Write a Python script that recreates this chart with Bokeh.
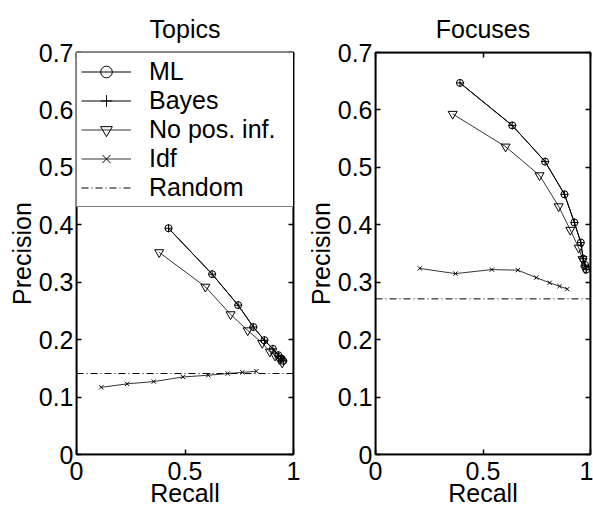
from bokeh.plotting import figure
from bokeh.models import (LinearAxis, FixedTicker, CustomJSTickFormatter, Legend,
                          LegendItem, Range1d, BoxAnnotation)
from bokeh.layouts import row
from bokeh.embed import file_html
from bokeh.resources import INLINE

# ---------------- data ----------------
x_ticks = [0, 0.5, 1]
y_ticks = [0, 0.1, 0.2, 0.3, 0.4, 0.5, 0.6, 0.7]
x_lim = [0, 1]
y_lim = [0, 0.7]

# Topics
topics_ml_x = [0.424, 0.625, 0.745, 0.815, 0.866, 0.905, 0.930, 0.945, 0.953]
topics_ml_y = [0.394, 0.314, 0.260, 0.222, 0.199, 0.184, 0.173, 0.167, 0.163]
topics_bayes_x = [0.424, 0.625, 0.745, 0.815, 0.866, 0.905, 0.930, 0.945, 0.953]
topics_bayes_y = [0.394, 0.314, 0.260, 0.222, 0.199, 0.184, 0.173, 0.167, 0.163]
topics_nopos_x = [0.381, 0.594, 0.710, 0.789, 0.856, 0.891, 0.915, 0.935, 0.948]
topics_nopos_y = [0.352, 0.292, 0.244, 0.216, 0.194, 0.179, 0.172, 0.166, 0.160]
topics_idf_x = [0.114, 0.233, 0.356, 0.490, 0.607, 0.697, 0.764, 0.829]
topics_idf_y = [0.117, 0.123, 0.127, 0.135, 0.138, 0.141, 0.143, 0.145]
topics_random = 0.141

# Focuses
focus_ml_x = [0.393, 0.636, 0.789, 0.879, 0.925, 0.955, 0.966, 0.975, 0.980]
focus_ml_y = [0.647, 0.573, 0.510, 0.453, 0.404, 0.369, 0.341, 0.330, 0.322]
focus_bayes_x = [0.393, 0.636, 0.789, 0.879, 0.925, 0.955, 0.966, 0.975, 0.980]
focus_bayes_y = [0.647, 0.573, 0.510, 0.453, 0.404, 0.369, 0.341, 0.330, 0.322]
focus_nopos_x = [0.359, 0.605, 0.763, 0.852, 0.906, 0.945, 0.963, 0.975]
focus_nopos_y = [0.593, 0.536, 0.486, 0.432, 0.391, 0.360, 0.340, 0.324]
focus_idf_x = [0.206, 0.372, 0.541, 0.662, 0.748, 0.810, 0.856, 0.892]
focus_idf_y = [0.324, 0.315, 0.322, 0.321, 0.308, 0.299, 0.293, 0.288]
focus_random = 0.271

FONT = "Liberation Sans"
FS = "25px"


def fmt():
    return CustomJSTickFormatter(code="return String(Math.round(tick*10)/10);")


def blank():
    return CustomJSTickFormatter(code="return '';")


def tick_axis(ticks):
    ax = LinearAxis(ticker=FixedTicker(ticks=ticks), formatter=blank())
    ax.major_tick_in = 5
    ax.major_tick_out = 0
    ax.minor_tick_line_color = None
    ax.axis_line_color = "black"
    ax.axis_line_width = 1.5
    ax.major_tick_line_color = "black"
    ax.major_tick_line_width = 1.5
    ax.major_label_standoff = 0
    ax.major_label_text_font_size = "1px"
    return ax


def label_axis(ticks, label, standoff, label_standoff):
    ax = LinearAxis(ticker=FixedTicker(ticks=ticks), formatter=fmt())
    ax.major_tick_in = 0
    ax.major_tick_out = 0
    ax.minor_tick_line_color = None
    ax.major_tick_line_color = None
    ax.axis_line_color = None
    ax.major_label_text_font = FONT
    ax.major_label_text_font_size = FS
    ax.major_label_text_color = "black"
    ax.major_label_standoff = standoff
    ax.axis_label = label
    ax.axis_label_text_font = FONT
    ax.axis_label_text_font_size = FS
    ax.axis_label_text_font_style = "normal"
    ax.axis_label_text_color = "black"
    ax.axis_label_standoff = label_standoff
    return ax


def make_fig(title, width, mbl, mbr):
    p = figure(width=width, height=512, x_range=Range1d(*x_lim), y_range=Range1d(*y_lim),
               output_backend="svg", toolbar_location=None, title=title,
               x_axis_location=None, y_axis_location=None,
               min_border_left=mbl, min_border_right=mbr,
               min_border_top=52, min_border_bottom=58)
    p.title.align = "center"
    p.title.text_font = FONT
    p.title.text_font_size = FS
    p.title.text_font_style = "normal"
    p.title.text_color = "black"
    p.title.standoff = 19
    p.xgrid.visible = False
    p.ygrid.visible = False
    p.outline_line_color = "black"
    p.outline_line_width = 1.5
    p.add_layout(tick_axis(y_ticks), "left")
    p.add_layout(tick_axis(x_ticks), "below")
    p.add_layout(tick_axis(y_ticks), "right")
    p.add_layout(tick_axis(x_ticks), "above")
    p.add_layout(label_axis(y_ticks, "Precision", 3, 0), "left")
    p.add_layout(label_axis(x_ticks, "Recall", 7, -4), "below")
    return p


def frame_box(p):
    p.add_layout(BoxAnnotation(left=x_lim[0], right=x_lim[1], bottom=y_lim[0],
                               top=y_lim[1], fill_alpha=0, fill_color=None,
                               line_color="black", line_width=1.5, line_alpha=1,
                               level="overlay"))


def draw(p, mlx, mly, bx, by, nx, ny, ix, iy, rnd):
    r = {}
    l1 = p.line(mlx, mly, line_color="black", line_width=1)
    m1 = p.scatter(mlx, mly, marker="circle", size=7, line_color="black",
                   fill_color=None, line_width=1)
    l2 = p.line(bx, by, line_color="black", line_width=1)
    m2 = p.scatter(bx, by, marker="cross", size=8, line_color="black", line_width=1)
    l3 = p.line(nx, ny, line_color="black", line_width=0.8)
    m3 = p.scatter(nx, ny, marker="inverted_triangle", size=9, line_color="black",
                   fill_color=None, line_width=1)
    l4 = p.line(ix, iy, line_color="black", line_width=0.8)
    m4 = p.scatter(ix, iy, marker="x", size=6, line_color="black", line_width=1)
    l5 = p.line(x_lim, [rnd, rnd], line_color="black", line_width=1,
                line_dash="7 3 1 3")
    r["ML"] = [l1, m1]
    r["Bayes"] = [l2, m2]
    r["No pos. inf."] = [l3, m3]
    r["Idf"] = [l4, m4]
    r["Random"] = [l5]
    return r


p1 = make_fig("Topics", 300, 76, 7)
r1 = draw(p1, topics_ml_x, topics_ml_y, topics_bayes_x, topics_bayes_y,
          topics_nopos_x, topics_nopos_y, topics_idf_x, topics_idf_y, topics_random)
frame_box(p1)
p2 = make_fig("Focuses", 293, 75, 3)
draw(p2, focus_ml_x, focus_ml_y, focus_bayes_x, focus_bayes_y,
     focus_nopos_x, focus_nopos_y, focus_idf_x, focus_idf_y, focus_random)
frame_box(p2)

legend = Legend(items=[LegendItem(label=k, renderers=v) for k, v in r1.items()],
                location="top_left", margin=0, padding=4, spacing=0,
                glyph_width=50, glyph_height=29, label_height=29, label_width=141,
                label_standoff=18, label_text_font=FONT, label_text_font_size=FS,
                label_text_color="black", border_line_color="black",
                border_line_width=1.5, background_fill_color="white",
                background_fill_alpha=1)
p1.add_layout(legend, "center")

layout = row(p1, p2)
open("out.html", "w").write(file_html(layout, INLINE))
